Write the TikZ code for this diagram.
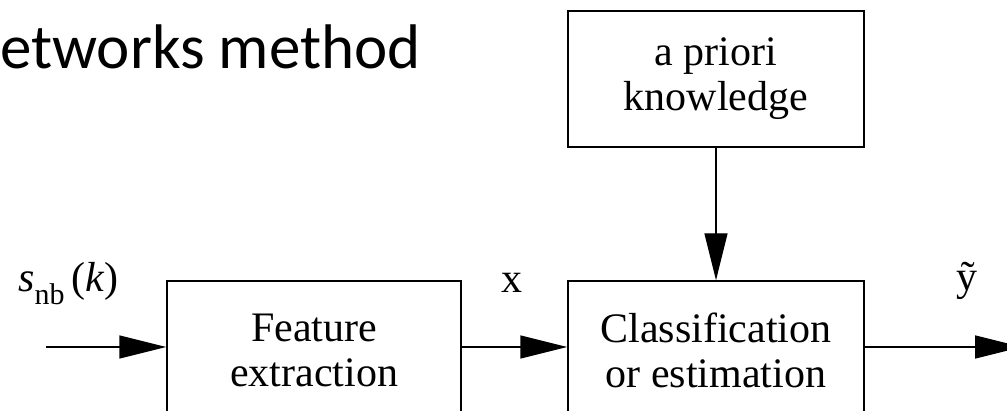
\documentclass[tikz,border=0pt]{standalone}
\usepackage{fontspec}
\setmainfont{Liberation Serif}
\newfontfamily\titlefont{Carlito}
\usetikzlibrary{arrows.meta}
\tikzset{
  blk/.style={draw, line width=1.4pt, minimum width=294pt, align=center, inner sep=0pt,
    font=\fontsize{42}{45}\selectfont},
  conn/.style={line width=1.4pt, -{Triangle[length=47pt,width=23pt]}},
  lbl/.style={font=\fontsize{42}{45}\selectfont, inner sep=0pt, anchor=base}
}
\begin{document}
\begin{tikzpicture}[x=1pt,y=-1pt]
\useasboundingbox (0,0) rectangle (1007,411);
\clip (0,0) rectangle (1007,411);
\node[anchor=base west, inner sep=0pt, font=\titlefont\fontsize{63}{70}\selectfont] (title) at (0,69) {etworks method};
\node[blk, minimum width=296pt, minimum height=136pt] (prior) at (716,79) {a priori\\knowledge};
\node[blk, minimum height=138pt] (feat) at (314,350) {Feature\\extraction};
\node[blk, minimum width=296pt, minimum height=138pt] (cls) at (716,350) {Classification\\or estimation};
\coordinate (in) at (46,347);
\coordinate (out) at (1022,347);
\draw[conn] (in) -- (in -| feat.west);
\draw[conn] (in -| feat.east) -- (in -| cls.west);
\draw[conn] (in -| cls.east) -- (out);
\draw[conn] (prior.south) -- (cls.north);
\node[lbl, anchor=base west] (s) at (18,292) {\textit{s}\raisebox{-0.3em}{\fontsize{30}{30}\selectfont nb}\,(\textit{k})};
\node[lbl] (x) at (512,293) {x};
\node[lbl] (y) at (967,291) {ỹ};
\end{tikzpicture}
\end{document}
